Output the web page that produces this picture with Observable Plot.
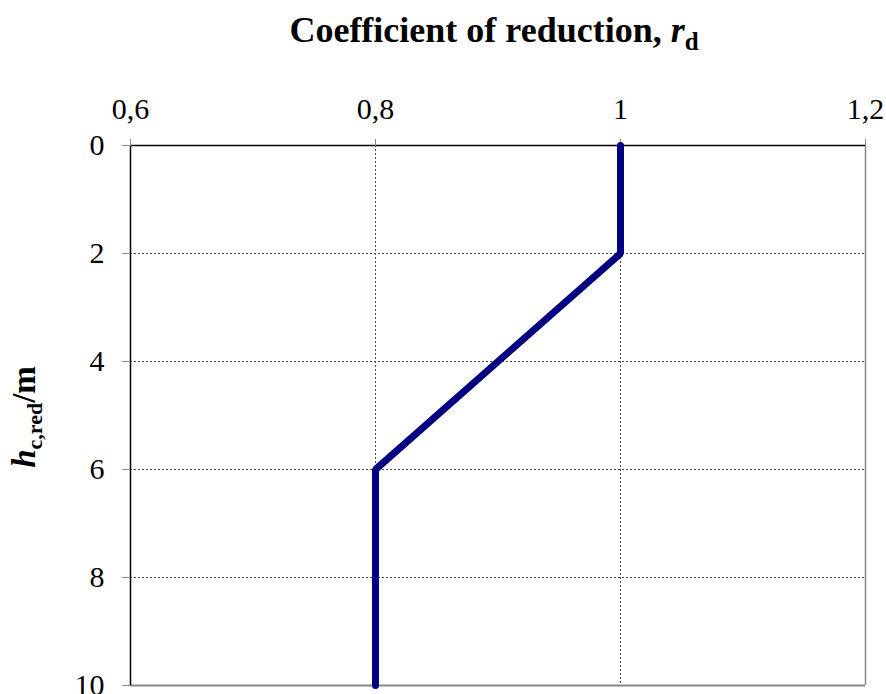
<!DOCTYPE html>
<html><head><meta charset="utf-8">
<script src="https://cdn.jsdelivr.net/npm/d3@7"></script>
<script src="https://cdn.jsdelivr.net/npm/@observablehq/plot@0.6"></script>
<style>body{margin:0;background:#fff}
g[aria-label$="tick label"]{font-size:30px !important}
g[aria-label$="tick label"] text{font-size:30px !important}
</style>
</head><body><div id="chart"></div>
<script>
const rd = [1, 1, 0.8, 0.8];
const h = [0, 2, 6, 10];
const xTicks = [0.6, 0.8, 1, 1.2];
const yTicks = [0, 2, 4, 6, 8, 10];
const xGrid = [0.8, 1.0];
const yGrid = [2, 4, 6, 8];
const titleText = "Coefficient of reduction, ";
const data = rd.map((r, i) => ({r, h: h[i]}));
const fmt = d => String(d).replace(".", ",");
const font = "'Liberation Serif', 'Times New Roman', serif";

const chart = Plot.plot({
  width: 886, height: 694,
  marginLeft: 130, marginRight: 21, marginTop: 145, marginBottom: 9,
  style: {fontFamily: font, fontSize: "30px", color: "#000", background: "#fff"},
  x: {domain: [0.6, 1.2]},
  y: {domain: [0, 10], reverse: true},
  marks: [
    Plot.gridX(xGrid, {stroke: "#444", strokeOpacity: 1, strokeDasharray: "2,2", strokeWidth: 1}),
    Plot.gridY(yGrid, {stroke: "#444", strokeOpacity: 1, strokeDasharray: "2,2", strokeWidth: 1}),
    Plot.ruleX([1.2], {stroke: "#888", strokeWidth: 1.5}),
    Plot.ruleY([10], {stroke: "#888", strokeWidth: 2}),
    Plot.ruleY([0], {stroke: "#000", strokeWidth: 1.5}),
    Plot.ruleX([0.6], {stroke: "#000", strokeWidth: 1.5}),
    Plot.axisX({anchor: "top", ticks: xTicks, tickFormat: fmt, tickSize: 7, tickPadding: 20, stroke: "#888", label: null, fontSize: 30}),
    Plot.axisY({anchor: "left", ticks: yTicks, tickFormat: fmt, tickSize: 8, tickPadding: 18, stroke: "#888", label: null, fontSize: 30}),
    Plot.line(data, {x: "r", y: "h", stroke: "#000080", strokeWidth: 7, strokeLinejoin: "miter"})
  ]
});
document.getElementById("chart").appendChild(chart);
const svg = d3.select(chart);
svg.selectAll('g[aria-label$="tick label"]').attr("font-size", 30).style("font-size", "30px");
const t = svg.append("text").attr("x", 494).attr("y", 42).attr("text-anchor", "middle")
  .style("font-family", font).style("font-weight", "bold").style("font-size", "36px").attr("fill", "#000");
t.append("tspan").text(titleText);
t.append("tspan").style("font-style", "italic").text("r");
t.append("tspan").attr("dy", 8).style("font-size", "25px").text("d");
const yl = svg.append("text").attr("transform", "translate(35,417) rotate(-90)").attr("text-anchor", "middle")
  .style("font-family", font).style("font-weight", "bold").style("font-size", "33px").attr("fill", "#000");
yl.append("tspan").style("font-style", "italic").text("h");
yl.append("tspan").attr("dy", 7).style("font-size", "22px").text("c,red");
yl.append("tspan").attr("dy", -7).text("/m");
</script></body></html>
